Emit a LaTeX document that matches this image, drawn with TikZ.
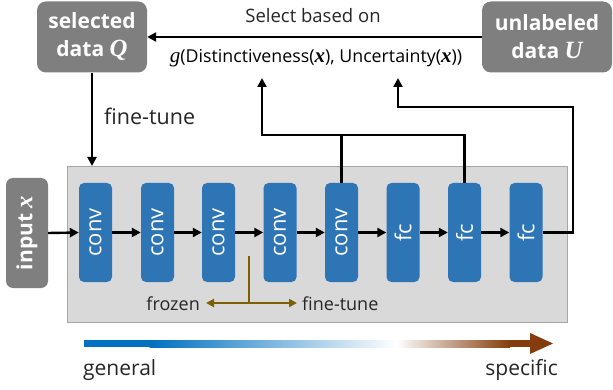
\documentclass[tikz,border=0pt]{standalone}
\usepackage{fontspec}
\usepackage{graphicx}
\setmainfont{Open Sans}
\newfontfamily\mathsr[Scale=1.18]{Liberation Serif}
\newcommand{\bix}[1]{{\mathsr\bfseries\itshape #1}}
\newcommand{\itx}[1]{{\mathsr\itshape #1}}
\usetikzlibrary{arrows.meta}
\definecolor{blk}{HTML}{2E75B6}
\definecolor{gbox}{HTML}{7F7F7F}
\definecolor{panel}{HTML}{D9D9D9}
\definecolor{panelborder}{HTML}{A6A6A6}
\definecolor{brn}{HTML}{7F6000}
\definecolor{gblue}{HTML}{0070C0}
\definecolor{gbrown}{HTML}{843C0C}
\definecolor{txt}{HTML}{262626}
\begin{document}
\begin{tikzpicture}[x=1pt,y=-1pt,
  graybox/.style={fill=gbox, rounded corners=9pt, text=white, font=\bfseries\fontsize{21}{28}\selectfont, align=center, inner sep=0pt},
  layer/.style={fill=blk, rounded corners=5pt, minimum width=33pt, minimum height=99pt, text=white, font=\fontsize{22}{24}\selectfont, inner sep=0pt},
  ln/.style={line width=2.4pt, black, line join=miter},
  arr/.style={ln, -{Triangle[length=9pt,width=9pt]}},
  brnarr/.style={line width=2.2pt, brn, {Triangle[length=8pt,width=8pt]}-{Triangle[length=8pt,width=8pt]}},
  lbl/.style={text=txt, font=\fontsize{17}{20}\selectfont, inner sep=0pt}
]
\useasboundingbox (0,0) rectangle (613,390);

% panel
\node[draw=panelborder, line width=1pt, fill=panel, minimum width=500pt, minimum height=155pt, inner sep=0pt] (panel) at (317,244.5) {};

% gray boxes
\node[graybox, minimum width=110pt, minimum height=71pt] (Q) at (92,37) {selected\\data \bix{Q}};
\node[graybox, minimum width=130pt, minimum height=71pt] (U) at (547,37) {unlabeled\\data \bix{U}};
\node[graybox, rounded corners=7pt, minimum width=42pt, minimum height=110pt] (in) at (27,233) {\rotatebox{90}{input \bix{x}}};

% layers
\node[layer] (c1) at (95.5,232.5) {\rotatebox{90}{conv}};
\node[layer] (c2) at (157.5,232.5) {\rotatebox{90}{conv}};
\node[layer] (c3) at (218.5,232.5) {\rotatebox{90}{conv}};
\node[layer] (c4) at (280,232.5) {\rotatebox{90}{conv}};
\node[layer] (c5) at (341.5,232.5) {\rotatebox{90}{conv}};
\node[layer] (f1) at (403,232.5) {\rotatebox{90}{fc}};
\node[layer] (f2) at (464.5,232.5) {\rotatebox{90}{fc}};
\node[layer] (f3) at (526,232.5) {\rotatebox{90}{fc}};

% chain arrows
\draw[arr] (in.east) -- (c1.west);
\draw[arr] (c1.east) -- (c2.west);
\draw[arr] (c2.east) -- (c3.west);
\draw[arr] (c3.east) -- (c4.west);
\draw[arr] (c4.east) -- (c5.west);
\draw[arr] (c5.east) -- (f1.west);
\draw[arr] (f1.east) -- (f2.west);
\draw[arr] (f2.east) -- (f3.west);

% top texts
\node[lbl, font=\fontsize{18.5}{20}\selectfont] (sel) at (313,16) {Select based on};
\node[lbl, font=\fontsize{17.8}{20}\selectfont, text=black] (gfun) at (316,58) {\itx{g}(Distinctiveness(\bix{x}), Uncertainty(\bix{x}))};
\draw[arr] (U.west) -- (Q.east);

% fine-tune from Q
\coordinate (ptop) at (92,166);
\draw[arr] (Q.south) -- (ptop);
\node[lbl, font=\fontsize{21.5}{24}\selectfont, anchor=west] (ft1) at (104,116) {fine-tune};

% feature lines
\coordinate (j1) at (262,135);
\coordinate (g1) at (262,78);
\draw[ln] (c5.north) -- (c5.north |- j1);
\draw[arr] (f2.north) |- (j1) -- (g1);
\coordinate (k1) at (573,232.5);
\coordinate (k2) at (573,107);
\coordinate (k3) at (398,107);
\coordinate (g2) at (398,78);
\draw[arr] (f3.east) -- (k1) -- (k2) -- (k3) -- (g2);

% frozen / fine-tune
\coordinate (b0) at (249,256);
\coordinate (b1) at (249,303);
\coordinate (bl) at (206,303);
\coordinate (br) at (297,303);
\draw[line width=2.2pt, brn] (b0) -- (b1);
\draw[brnarr] (bl) -- (br);
\node[lbl, font=\fontsize{18}{20}\selectfont, anchor=east] (frz) at (200,304) {frozen};
\node[lbl, font=\fontsize{18}{20}\selectfont, anchor=west] (ft2) at (302,304) {fine-tune};

% gradient bar
\fill[gblue] (84,340) rectangle (150,347);
\shade[left color=gblue, right color=white] (149.5,340) rectangle (397,347);
\shade[left color=white, right color=gbrown] (396.5,340) rectangle (510,347);
\fill[gbrown] (509.5,340) rectangle (531,347);
\fill[gbrown] (530,333) -- (553,343.5) -- (530,354) -- cycle;
\node[lbl, font=\fontsize{21}{24}\selectfont, anchor=west] (gen) at (83,370) {general};
\node[lbl, font=\fontsize{21}{24}\selectfont, anchor=east] (spec) at (558,370) {specific};
\end{tikzpicture}
\end{document}
